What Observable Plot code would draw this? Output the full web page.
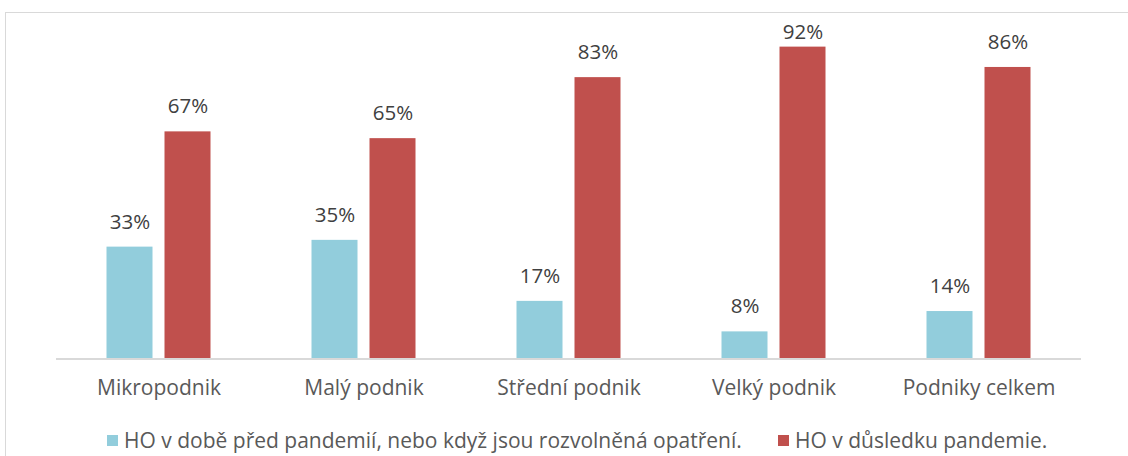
<!DOCTYPE html>
<html>
<head>
<meta charset="utf-8">
<script src="https://cdn.jsdelivr.net/npm/d3@7"></script>
<script src="https://cdn.jsdelivr.net/npm/@observablehq/plot@0.6"></script>
<style>
  html, body { margin: 0; padding: 0; background: #fff; overflow: hidden; width: 1128px; height: 456px; }
  #frame { position: absolute; left: 5px; top: 12px; width: 1200px; height: 500px; border-left: 1.5px solid #d9d9d9; border-top: 1.5px solid #d9d9d9; }
  #chart { position: absolute; left: 0; top: 0; }
  #legend { position: absolute; left: 0; top: 428px; width: 1128px; font-family: "Open Sans", sans-serif; font-size: 21px; line-height: 24px; color: #595959; white-space: nowrap; }
  .item { position: absolute; top: 0; display: flex; align-items: center; height: 24px; }
  .sw { width: 11px; height: 11px; margin-right: 6px; display: inline-block; }
</style>
</head>
<body>
<div id="frame"></div>
<div id="chart"></div>
<div id="legend"></div>
<script>
const categories = ["Mikropodnik", "Malý podnik", "Střední podnik", "Velký podnik", "Podniky celkem"];
const series = ["HO v době před pandemií, nebo když jsou rozvolněná opatření.", "HO v důsledku pandemie."];
const before = [33, 35, 17, 8, 14];
const during = [67, 65, 83, 92, 86];
const colors = ["#92CDDC", "#C0504D"];

const data = categories.flatMap((c, i) => [
  {cat: c, s: series[0], v: before[i]},
  {cat: c, s: series[1], v: during[i]}
]);

const chart = Plot.plot({
  width: 1128,
  height: 408,
  marginLeft: 55.5,
  marginRight: 47.5,
  marginTop: 19.5,
  marginBottom: 49.5,
  style: {fontFamily: "'Open Sans', sans-serif", fontSize: "21px", color: "#595959", background: "transparent"},
  fx: {domain: categories, padding: 0, label: null, axis: "bottom", tickSize: 0, tickPadding: 21},
  x: {domain: series, paddingInner: 0.207, paddingOuter: 0.87, axis: null},
  y: {domain: [0, 100], axis: null},
  color: {domain: series, range: colors},
  marks: [
    Plot.barY(data, {fx: "cat", x: "s", y: "v", fill: "s"}),
    Plot.ruleY([0], {stroke: "#d9d9d9", strokeWidth: 2}),
    Plot.text(data, {fx: "cat", x: "s", y: d => Math.min(d.v, 89), text: d => d.v + "%", dy: -25, fill: "#404040", fontSize: 20.5, lineAnchor: "middle"})
  ]
});
document.getElementById("chart").appendChild(chart);

const legend = document.getElementById("legend");
const lefts = [107, 778];
series.forEach((s, i) => {
  const item = document.createElement("div");
  item.className = "item";
  item.style.left = lefts[i] + "px";
  const sw = document.createElement("span");
  sw.className = "sw";
  sw.style.background = colors[i];
  const t = document.createElement("span");
  t.textContent = s;
  item.appendChild(sw);
  item.appendChild(t);
  legend.appendChild(item);
});
</script>
</body>
</html>
